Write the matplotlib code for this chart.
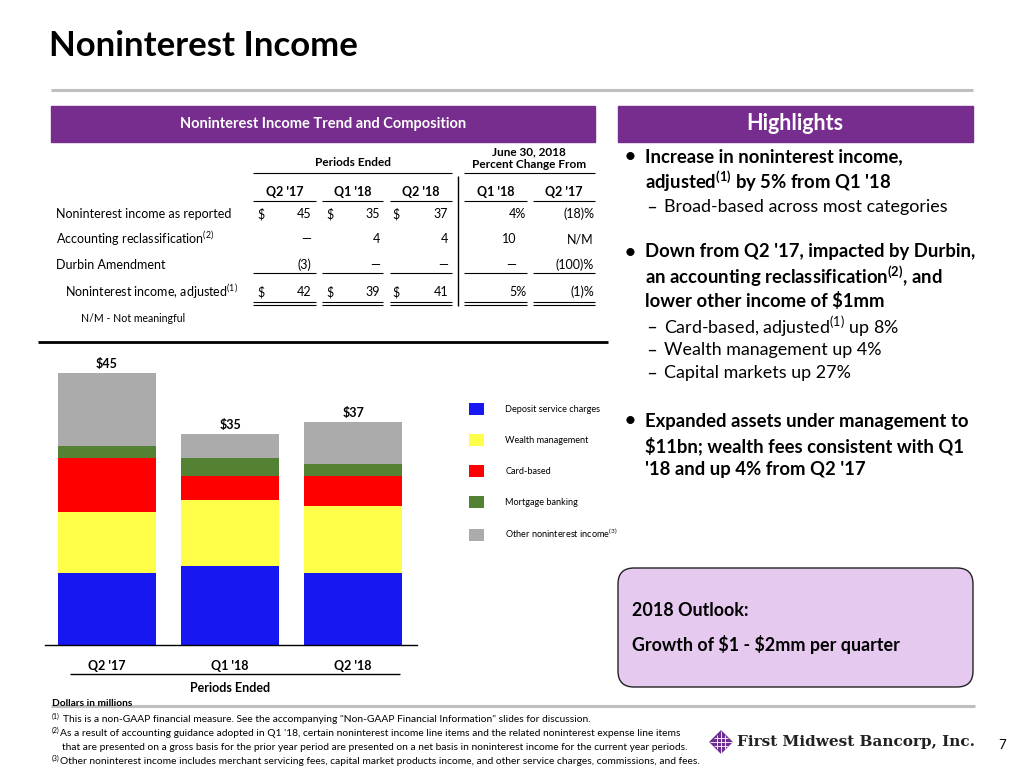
import matplotlib
matplotlib.use("Agg")
import matplotlib.pyplot as plt
from matplotlib.patches import Rectangle, FancyBboxPatch, Polygon

plt.rcParams['font.family'] = ['Lato', 'DejaVu Sans']
plt.rcParams['mathtext.fontset'] = 'custom'
plt.rcParams['mathtext.rm'] = 'Lato'
plt.rcParams['mathtext.bf'] = 'Lato:bold'

# ---- data ----
periods = ["Q2 '17", "Q1 '18", "Q2 '18"]
categories = ["Deposit service charges", "Wealth management", "Card-based",
              "Mortgage banking", "Other noninterest income$^{(3)}$"]
deposit = [12, 13, 12]
wealth = [10, 11, 11]
card = [9, 4, 5]
mortgage = [2, 3, 2]
other = [12, 4, 7]
totals = [45, 35, 37]
colors = ['#1717F2', '#FFFF4A', '#FF0000', '#548235', '#ABABAB']

row_labels = ["Noninterest income as reported", "Accounting reclassification$^{(2)}$",
              "Durbin Amendment", "Noninterest income, adjusted$^{(1)}$"]
dollar_vals = [["45", "35", "37"], ["\u2014", "4", "4"], ["(3)", "\u2014", "\u2014"], ["42", "39", "41"]]
pct_vals = [["4%", "(18)%"], ["10", "N/M"], ["\u2014", "(100)%"], ["5%", "(1)%"]]
col_heads = ["Q2 '17", "Q1 '18", "Q2 '18", "Q1 '18", "Q2 '17"]

PURPLE = '#762D8D'

fig = plt.figure(figsize=(10.24, 7.68), dpi=100)
bg = fig.add_axes([0, 0, 1, 1])
bg.set_xlim(0, 1024)
bg.set_ylim(768, 0)
bg.axis('off')


def T(x, y, s, **kw):
    kw.setdefault('va', 'center')
    kw.setdefault('ha', 'left')
    bg.text(x, y, s, **kw)


def L(x0, x1, y0, y1, lw=0.8, color='black'):
    bg.plot([x0, x1], [y0, y1], color=color, lw=lw, solid_capstyle='butt')


# title
T(49, 46, "Noninterest Income", fontsize=25, fontweight='bold')
L(51, 973, 90, 90, lw=2.2, color='#BFBFBF')

# purple headers
bg.add_patch(Rectangle((51, 106), 544, 36, color=PURPLE))
bg.add_patch(Rectangle((618, 106), 355, 36, color=PURPLE))
T(323, 124, "Noninterest Income Trend and Composition", ha='center', color='white',
  fontsize=10.5, fontweight='bold')
T(795, 124, "Highlights", ha='center', color='white', fontsize=15.5, fontweight='bold')

# ---- table ----
FS = 9
spans = [(253, 316), (322, 383), (390, 452), (464, 527), (533, 595)]
T(353, 163, "Periods Ended", ha='center', fontsize=8.5, fontweight='bold')
T(529, 152, "June 30, 2018", ha='center', fontsize=8.5, fontweight='bold')
T(529, 165, "Percent Change From", ha='center', fontsize=8.5, fontweight='bold')
L(253, 452, 173, 173)
L(464, 595, 173, 173)
for (a, b), h in zip(spans, col_heads):
    T((a + b) / 2, 192, h, ha='center', fontsize=9, fontweight='bold')
    L(a, b, 201, 201)
    L(a, b, 273, 273)
    L(a, b, 302, 302)
    L(a, b, 305, 305)
L(458, 458, 176, 306, lw=1.0)

row_y = [214, 239, 265, 292]
dollar_x = [257, 326, 392]
right_x = [311, 380, 448]
for i, lab in enumerate(row_labels):
    y = row_y[i]
    T(65 if i == 3 else 56, y, lab, fontsize=FS)
    for j in range(3):
        if i in (0, 3):
            T(dollar_x[j], y, "$", fontsize=FS)
        T(right_x[j], y, dollar_vals[i][j], ha='right', fontsize=FS)
    p1, p2 = pct_vals[i]
    T(526 if p1.endswith('%') else 516, y, p1, ha='right', fontsize=FS)
    T(594, y, p2, ha='right', fontsize=FS)
T(81, 319, "N/M - Not meaningful", fontsize=7.6)
L(38, 608, 342, 342, lw=2.0)

# ---- stacked bar chart ----
ax = fig.add_axes([45 / 1024, (768 - 645) / 768, 372 / 1024, 300 / 768])
ax.set_xlim(-0.504, 2.52)
ax.set_ylim(0, 300 / 6.04)
x = range(len(periods))
bottom = [0] * len(periods)
for vals, c, lab in zip([deposit, wealth, card, mortgage, other], colors, categories):
    ax.bar(x, vals, bottom=bottom, width=0.8, color=c, label=lab, linewidth=0)
    bottom = [b + v for b, v in zip(bottom, vals)]
for i, t in enumerate(totals):
    ax.annotate(f"${t}", (i, t), xytext=(0, 2), textcoords='offset points',
                ha='center', va='bottom', fontsize=9, fontweight='bold')
for s in ['top', 'left', 'right']:
    ax.spines[s].set_visible(False)
ax.spines['bottom'].set_linewidth(1.0)
ax.set_yticks([])
ax.set_xticks(list(x))
ax.set_xticklabels(periods, fontsize=9, fontweight='bold')
ax.tick_params(axis='x', length=0, pad=11)
ax.patch.set_alpha(0)

L(70, 400, 674, 674, lw=1.0)
T(230, 688, "Periods Ended", ha='center', fontsize=9, fontweight='bold')

handles, labels = ax.get_legend_handles_labels()
fig.legend(handles, labels, loc='upper left', bbox_to_anchor=(469 / 1024, 1 - 403 / 768),
           frameon=False, fontsize=6.6, handlelength=1.65, handleheight=1.65,
           labelspacing=2.05, handletextpad=2.3, borderpad=0, borderaxespad=0)

# ---- highlights ----
HB = dict(fontsize=13.3, fontweight='bold')
HR = dict(fontsize=12.9)
for y0, lines in [(157, ["Increase in noninterest income,",
                         r"adjusted$^{\mathbf{(1)}}$ by 5% from Q1 '18"]),
                  (252, ["Down from Q2 '17, impacted by Durbin,",
                         r"an accounting reclassification$^{\mathbf{(2)}}$, and",
                         "lower other income of $1mm"]),
                  (421, ["Expanded assets under management to",
                         "$11bn; wealth fees consistent with Q1",
                         "'18 and up 4% from Q2 '17"])]:
    T(630, y0, "\u2022", ha='center', **HB)
    for k, s in enumerate(lines):
        T(645, y0 + k * 24.5, s, **HB)
for y0, s in [(207, "Broad-based across most categories"),
              (327, "Card-based, adjusted$^{(1)}$ up 8%"),
              (350, "Wealth management up 4%"),
              (373, "Capital markets up 27%")]:
    T(652, y0, "\u2013", ha='center', fontsize=12.9, family='DejaVu Sans')
    T(664, y0, s, **HR)

# outlook box
bg.add_patch(FancyBboxPatch((618, 568), 355, 119, boxstyle="round,pad=0,rounding_size=16",
                            facecolor='#E6C9EE', edgecolor='#222222', lw=1.0))
T(632, 610, "2018 Outlook:", fontsize=12.9, fontweight='bold')
T(632, 645, r"Growth of \$1 - \$2mm per quarter", fontsize=12.9, fontweight='bold')

# ---- footnotes ----
L(51, 975, 706, 706, lw=2.2, color='#BFBFBF')
T(52, 703, "Dollars in millions", fontsize=7.3, fontweight='bold')
FN = dict(fontsize=7.4)
SUP = dict(fontsize=5)
T(52, 716, "(1)", **SUP)
T(63, 720, "This is a non-GAAP financial measure. See the accompanying \"Non-GAAP Financial Information\" slides for discussion.", **FN)
T(52, 730, "(2)", **SUP)
T(60, 734, "As a result of accounting guidance adopted in Q1 '18, certain noninterest income line items and the related noninterest expense line items", **FN)
T(62, 748, "that are presented on a gross basis for the prior year period are presented on a net basis in noninterest income for the current year periods.", **FN)
T(52, 758, "(3)", **SUP)
T(60, 762, "Other noninterest income includes merchant servicing fees, capital market products income, and other service charges, commissions, and fees.", **FN)

# logo
cx, cy, r = 721, 742, 11
bg.add_patch(Polygon([(cx - r, cy), (cx, cy - r), (cx + r, cy), (cx, cy + r)], closed=True,
                     color='#6B2D8F'))
for d in (-4, 0, 4):
    L(cx + d, cx + d, cy - r + abs(d), cy + r - abs(d), lw=0.6, color='white')
    L(cx - r + abs(d), cx + r - abs(d), cy + d, cy + d, lw=0.6, color='white')
T(737, 742, "First Midwest Bancorp, Inc.", fontsize=11, fontweight='bold',
  family='DejaVu Serif', color='#222222')
T(1002, 745, "7", fontsize=9.5, ha='center')

fig.savefig("out.png", dpi=100)
